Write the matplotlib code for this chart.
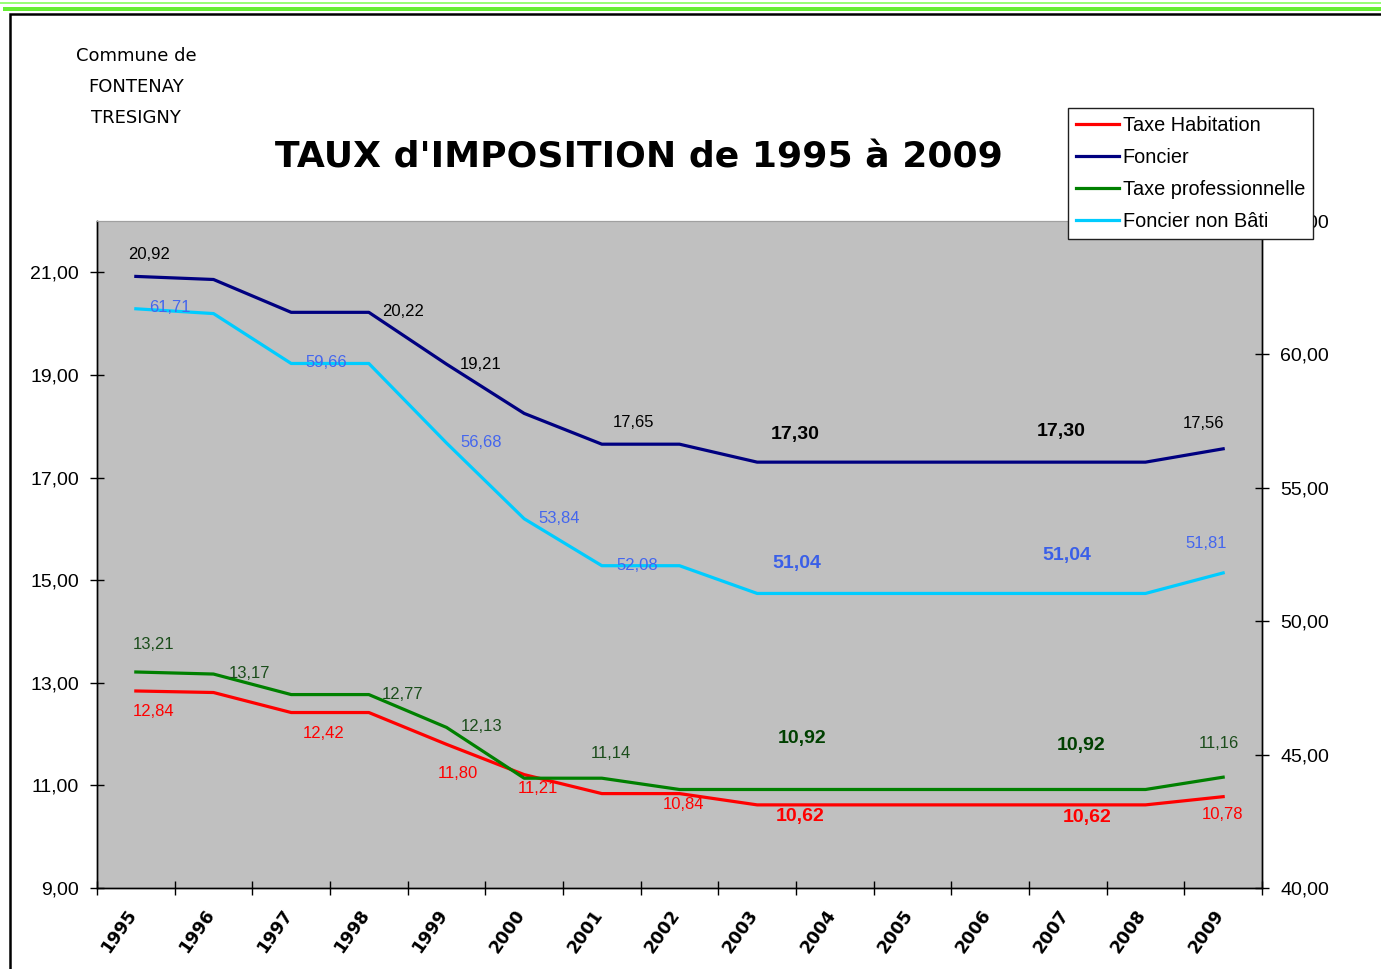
import numpy as np
import matplotlib
matplotlib.use('Agg')
import matplotlib.pyplot as plt
from matplotlib.patches import Rectangle
from matplotlib.ticker import FuncFormatter

W, H = 1381, 969
YEARS = [str(y) for y in range(1995, 2010)]

habitation      = [12.84, 12.81, 12.42, 12.42, 11.80, 11.21, 10.84, 10.84,
                   10.62, 10.62, 10.62, 10.62, 10.62, 10.62, 10.78]
foncier         = [20.92, 20.86, 20.22, 20.22, 19.21, 18.25, 17.65, 17.65,
                   17.30, 17.30, 17.30, 17.30, 17.30, 17.30, 17.56]
professionnelle = [13.21, 13.17, 12.77, 12.77, 12.13, 11.14, 11.14, 10.92,
                   10.92, 10.92, 10.92, 10.92, 10.92, 10.92, 11.16]
non_bati        = [61.71, 61.53, 59.66, 59.66, 56.68, 53.84, 52.08, 52.08,
                   51.04, 51.04, 51.04, 51.04, 51.04, 51.04, 51.81]

# which points carry a value label: (index, dx px, dy px, bold)
LAB_HAB = [(0, 18, -21, False), (2, 32, -21, False), (4, 11, -29, False),
           (5, 14, -14, False), (7, 4, -11, False), (8, 43, -12, True),
           (12, 19, -13, True), (14, -1, -18, False)]
LAB_FON = [(0, 13, 22, False), (3, 34, 1, False), (4, 34, 0, False),
           (6, 32, 22, False), (8, 38, 28, True), (12, -7, 31, True),
           (14, -20, 25, False)]
LAB_PRO = [(0, 18, 27, False), (1, 36, 1, False), (3, 34, 0, False),
           (4, 35, 1, False), (6, 9, 25, False), (8, 45, 51, True),
           (12, 13, 44, True), (14, -4, 34, False)]
LAB_NB  = [(0, 34, 1, False), (2, 35, 1, False), (4, 35, 0, False),
           (5, 35, 0, False), (6, 35, 0, False), (8, 40, 30, True),
           (12, -1, 38, True), (14, -17, 29, False)]

SANS = 'Liberation Sans'
fmt = lambda v: f'{v:.2f}'.replace('.', ',')

fig = plt.figure(figsize=(W / 100, H / 100), dpi=100)
fig.patch.set_facecolor('white')

# top green bars + outer frame
fig.add_artist(Rectangle((0, 1 - 4 / H), 1, 2 / H, transform=fig.transFigure,
                         facecolor='#99ff77', edgecolor='none'))
fig.add_artist(Rectangle((3 / W, 1 - 11 / H), 1, 4 / H, transform=fig.transFigure,
                         facecolor='#66ee33', edgecolor='none'))
fig.add_artist(Rectangle((10 / W, -0.1), 1.2, 1.1 - 14 / H, transform=fig.transFigure,
                         facecolor='none', edgecolor='black', linewidth=1.8))

ax = fig.add_axes([97 / W, 1 - 888 / H, (1262 - 97) / W, (888 - 221) / H])
ax.set_facecolor('#c0c0c0')
ax2 = ax.twinx()

x = np.arange(len(YEARS))
l1, = ax.plot(x, habitation, color='#ff0000', lw=2.3, label='Taxe Habitation')
l2, = ax.plot(x, foncier, color='#000080', lw=2.3, label='Foncier')
l3, = ax.plot(x, professionnelle, color='#008000', lw=2.3, label='Taxe professionnelle')
l4, = ax2.plot(x, non_bati, color='#00ccff', lw=2.3, label='Foncier non Bâti')

ax.set_xlim(-0.5, len(YEARS) - 0.5)
ax.set_ylim(9, 22)
ax2.set_ylim(40, 65)
ax.set_yticks(np.arange(9, 22, 2))
ax2.set_yticks(np.arange(40, 66, 5))
ax.yaxis.set_major_formatter(FuncFormatter(lambda v, p: fmt(v)))
ax2.yaxis.set_major_formatter(FuncFormatter(lambda v, p: fmt(v)))

# rotated year labels sit a little left of the category centre
ax.set_xticks(x - 0.13)
ax.set_xticks(np.arange(len(YEARS) + 1) - 0.5, minor=True)
ax.set_xticklabels(YEARS, rotation=55, ha='right', va='top',
                   rotation_mode='anchor', fontsize=12.5, fontweight='bold',
                   family='DejaVu Sans')
ax.tick_params(axis='x', which='major', length=0, pad=13)
ax.tick_params(axis='x', which='minor', direction='inout', length=10, width=1)
ax.tick_params(axis='y', direction='inout', length=10, width=1, pad=8)
ax2.tick_params(axis='y', direction='inout', length=10, width=1, pad=8)
for a in (ax, ax2):
    for lab in a.get_yticklabels():
        lab.set_fontsize(14)
        lab.set_family(SANS)
    for side in ('left', 'right', 'bottom'):
        a.spines[side].set_color('black')
        a.spines[side].set_linewidth(1.0)
    a.spines['top'].set_color('#a0a0a0')
    a.spines['top'].set_linewidth(0.8)


def put_labels(a, vals, specs, color, bold_color):
    for i, dx, dy, bold in specs:
        a.annotate(fmt(vals[i]), (x[i], vals[i]), xytext=(dx, dy),
                   textcoords='offset pixels', ha='center', va='center',
                   family=SANS, fontsize=14 if bold else 12,
                   fontweight='bold' if bold else 'normal',
                   color=bold_color if bold else color, zorder=5)


put_labels(ax, habitation, LAB_HAB, '#ff0000', '#ff0000')
put_labels(ax, foncier, LAB_FON, '#000000', '#000000')
put_labels(ax, professionnelle, LAB_PRO, '#1b4d1b', '#004000')
put_labels(ax2, non_bati, LAB_NB, '#4466ee', '#3a5fe8')

# titles
for txt, yy in [('Commune de', 56), ('FONTENAY', 87), ('TRESIGNY', 118)]:
    fig.text(136 / W, 1 - yy / H, txt, ha='center', va='center',
             fontsize=13, family='DejaVu Sans')
fig.text(639 / W, 1 - 158 / H, "TAUX d'IMPOSITION de 1995 à 2009",
         ha='center', va='center', fontsize=26, fontweight='bold',
         family='DejaVu Sans')

leg = fig.legend(handles=[l1, l2, l3, l4], loc='upper left',
                 bbox_to_anchor=(1068 / W, 1 - 108 / H),
                 prop={'family': SANS, 'size': 14.3}, frameon=True,
                 fancybox=False, framealpha=1, edgecolor='#202020',
                 borderpad=0.4, labelspacing=0.65, handlelength=2.15,
                 handletextpad=0.2, borderaxespad=0)
leg.get_frame().set_linewidth(1.0)

fig.savefig('out.png', dpi=100, facecolor='white')
